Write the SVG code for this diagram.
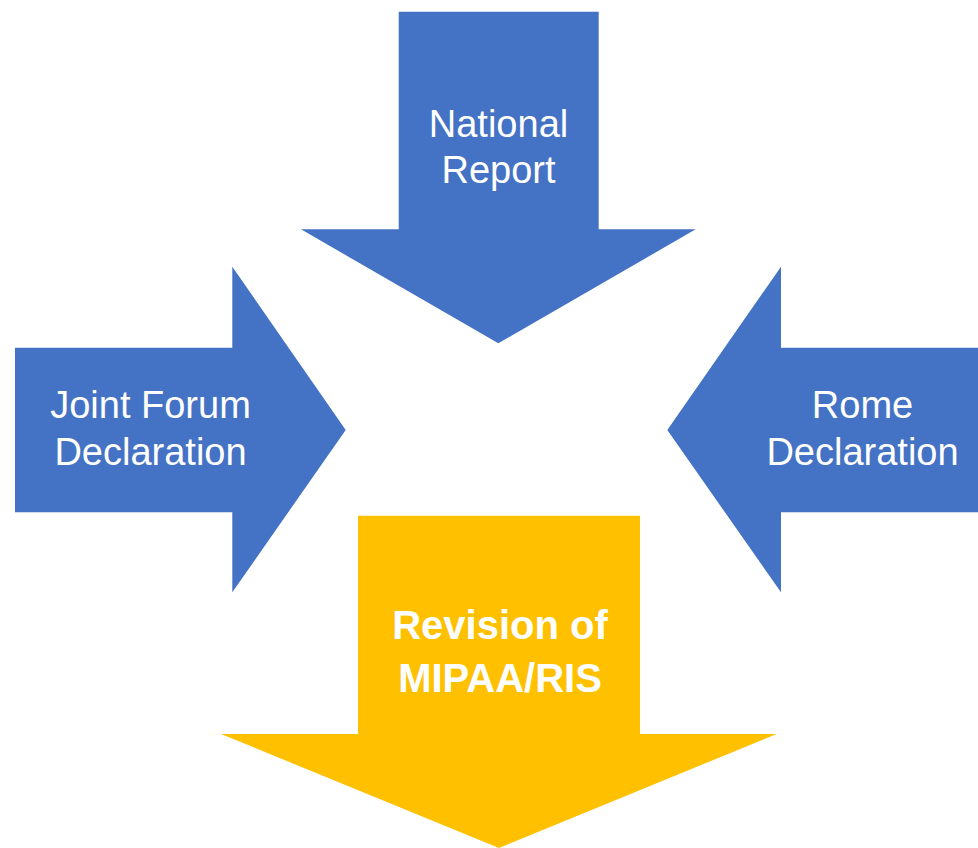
<svg xmlns="http://www.w3.org/2000/svg" width="978" height="848" viewBox="0 0 978 848">
<style>
.blue{fill:#4472C4}
.gold{fill:#FFC000}
.t{font-family:"Liberation Sans",Arial,sans-serif;font-size:38px;fill:#FFFFFF;text-anchor:middle}
.b{font-family:"Liberation Sans",Arial,sans-serif;font-size:40px;font-weight:bold;fill:#FFFFFF;text-anchor:middle}
</style>
<rect width="978" height="848" fill="#FFFFFF"/>
<g id="connectors"></g>
<g id="national-report">
<polygon class="blue" points="398.7,11.7 598.7,11.7 598.7,229.3 695.7,229.3 498.3,343.3 301,229.3 398.7,229.3"/>
<text class="t" x="498.5" y="136.7">National</text>
<text class="t" x="498.5" y="183.3">Report</text>
</g>
<g id="joint-forum-declaration">
<polygon class="blue" points="15,347.7 232.3,347.7 232.3,266.7 345.7,430 232.3,592.3 232.3,512.3 15,512.3"/>
<text class="t" x="150.5" y="418.3">Joint Forum</text>
<text class="t" x="150.5" y="465">Declaration</text>
</g>
<g id="rome-declaration">
<polygon class="blue" points="978,347.7 781,347.7 781,266.7 667.3,430 781,592.3 781,512.3 978,512.3"/>
<text class="t" x="862.5" y="418.3">Rome</text>
<text class="t" x="862.5" y="465">Declaration</text>
</g>
<g id="revision-mipaa-ris">
<polygon class="gold" points="358,515.7 640,515.7 640,734 776.7,734 499,848 221,734 358,734"/>
<text class="b" x="500" y="639.3">Revision of</text>
<text class="b" x="500" y="692.3">MIPAA/RIS</text>
</g>
</svg>
